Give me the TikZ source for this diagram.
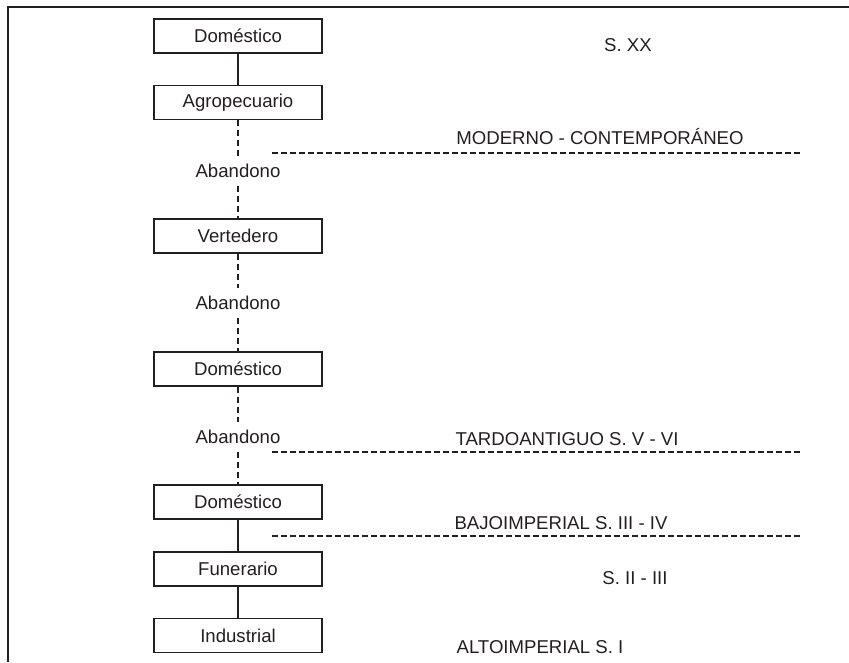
\documentclass[tikz,border=0pt]{standalone}
\usepackage{fontspec}
\setmainfont{Liberation Sans}
\definecolor{ink}{HTML}{231F20}
\begin{document}
\begin{tikzpicture}[x=1pt,y=-1pt,
  every node/.style={text=ink,font=\fontsize{18.6}{21}\selectfont},
  box/.style={draw=ink,line width=1.2pt,minimum width=168pt,minimum height=34pt,inner sep=0pt},
  gap/.style={inner xsep=2pt,inner ysep=8pt},
  lbl/.style={inner sep=0pt},
  conn/.style={draw=ink,line width=1.8pt},
  dconn/.style={draw=ink,line width=1.8pt,dash pattern=on 6pt off 4pt},
  period/.style={draw=ink,line width=1.5pt,dash pattern=on 5.5pt off 3.5pt},
  frame/.style={draw=ink,line width=1.6pt}]
\useasboundingbox (0,0) rectangle (849,662);
\draw[frame] (8,662) -- (8,7) -- (849,7);
% boxes
\node[box] (d1) at (238,36) {Doméstico};
\node[box] (ag) at (238,102.5) {Agropecuario};
\node[gap] (ab1) at (238,171) {Abandono};
\node[box] (ve) at (238,236) {Vertedero};
\node[gap] (ab2) at (238,303) {Abandono};
\node[box] (d2) at (238,369) {Doméstico};
\node[gap] (ab3) at (238,437) {Abandono};
\node[box] (d3) at (238,502) {Doméstico};
\node[box] (fu) at (238,569) {Funerario};
\node[box] (in) at (238,635.5) {Industrial};
% connectors
\draw[conn] (d1) -- (ag);
\draw[dconn] (ag) -- (ab1);
\draw[dconn] (ab1) -- (ve);
\draw[dconn] (ve) -- (ab2);
\draw[dconn] (ab2) -- (d2);
\draw[dconn] (d2) -- (ab3);
\draw[dconn] (ab3) -- (d3);
\draw[conn] (d3) -- (fu);
\draw[conn] (fu) -- (in);
% period labels
\node[lbl] (sxx) at (628,45) {S. XX};
\node[lbl] (mod) at (600,137) {MODERNO - CONTEMPORÁNEO};
\node[lbl] (tar) at (567,439) {TARDOANTIGUO S. V - VI};
\node[lbl] (baj) at (561,523) {BAJOIMPERIAL S. III - IV};
\node[lbl] (sii) at (635,578) {S. II - III};
\node[lbl] (alt) at (540,647) {ALTOIMPERIAL S. I};
% period dividers
\coordinate (p1a) at (272,153); \coordinate (p1b) at (802,153);
\coordinate (p2a) at (272,452); \coordinate (p2b) at (802,452);
\coordinate (p3a) at (272,536); \coordinate (p3b) at (802,536);
\draw[period] (p1a) -- (p1b);
\draw[period] (p2a) -- (p2b);
\draw[period] (p3a) -- (p3b);
\end{tikzpicture}
\end{document}
